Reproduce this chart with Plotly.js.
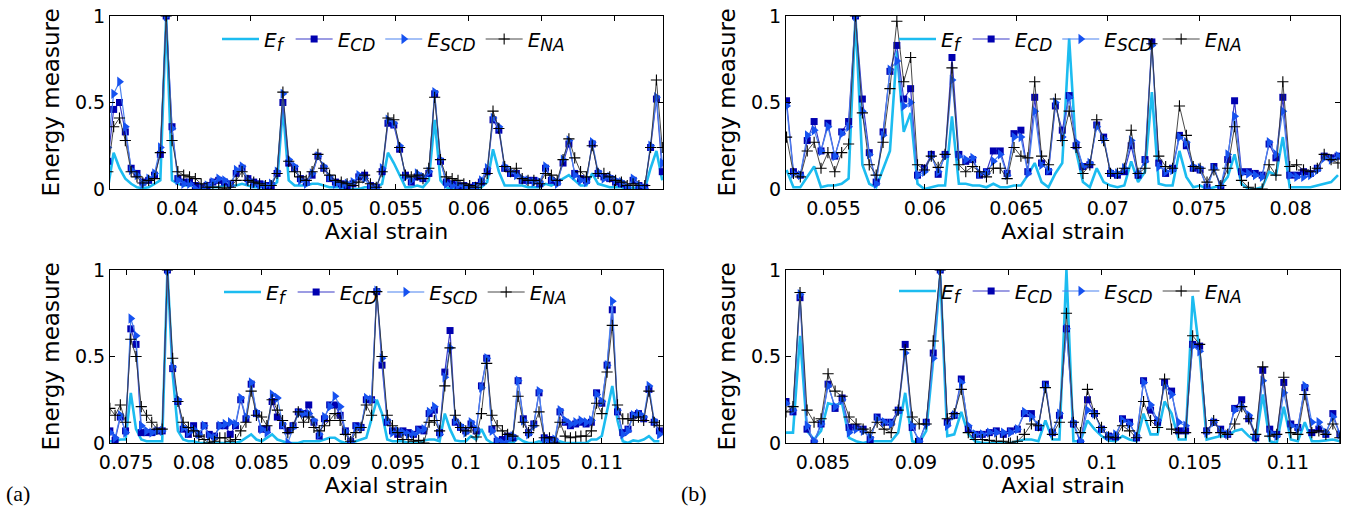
<!DOCTYPE html>
<html>
<head>
<meta charset="utf-8">
<script src="https://cdn.plot.ly/plotly-3.0.1.min.js"></script>
<style>
html,body{margin:0;padding:0;background:#fff;}
#plot{width:1365px;height:509px;}
</style>
</head>
<body>
<div id="plot"></div>
<script>
// ---------- Panel (a) top: strain grid start / step ----------
const tlX0 = 0.03525, tlDx = 0.0004;
const tlEf  = [0.0,0.21,0.12,0.06,0.03,0.01,0.005,0.01,0.03,0.05, 1.0,0.05,0.03,0.02,0.02,0.015,0.01,0.01,0.01,0.01, 0.02,0.02,0.02,0.03,0.02,0.01,0.01,0.01,0.01,0.04, 0.47,0.05,0.02,0.02,0.02,0.03,0.03,0.02,0.01,0.01, 0.01,0.0,0.0,0.0,0.01,0.01,0.01,0.03,0.21,0.15, 0.08,0.01,0.01,0.02,0.01,0.05,0.4,0.05,0.01,0.0, 0.0,0.0,0.0,0.0,0.01,0.04,0.23,0.1,0.02,0.02, 0.02,0.02,0.01,0.01,0.01,0.03,0.02,0.04,0.06,0.08, 0.05,0.02,0.02,0.09,0.03,0.02,0.01,0.01,0.01,0.0, 0.01,0.0,0.0,0.12,0.22,0.05];
const tlCD  = [0.16,0.46,0.50,0.33,0.12,0.09,0.04,0.05,0.08,0.20, 1.0,0.36,0.06,0.04,0.04,0.02,0.01,0.02,0.04,0.05, 0.04,0.03,0.09,0.12,0.06,0.04,0.03,0.02,0.02,0.09, 0.5,0.15,0.12,0.06,0.04,0.08,0.19,0.12,0.06,0.04, 0.03,0.02,0.03,0.07,0.08,0.02,0.01,0.1,0.38,0.37, 0.23,0.08,0.04,0.07,0.06,0.09,0.55,0.16,0.04,0.03, 0.02,0.02,0.01,0.02,0.04,0.1,0.4,0.34,0.12,0.09, 0.09,0.05,0.05,0.05,0.03,0.12,0.05,0.04,0.15,0.26, 0.09,0.06,0.05,0.26,0.09,0.07,0.06,0.04,0.03,0.01, 0.05,0.02,0.01,0.24,0.52,0.1];
const tlSCD = [0.24,0.55,0.62,0.36,0.11,0.08,0.03,0.06,0.09,0.24, 1.0,0.35,0.05,0.03,0.03,0.0,0.0,0.02,0.04,0.06, 0.05,0.02,0.11,0.13,0.05,0.03,0.02,0.02,0.03,0.10, 0.55,0.17,0.13,0.05,0.03,0.09,0.19,0.13,0.07,0.03, 0.02,0.03,0.04,0.08,0.06,0.01,0.0,0.12,0.4,0.38, 0.25,0.07,0.05,0.09,0.07,0.1,0.56,0.17,0.03,0.02, 0.02,0.01,0.0,0.01,0.05,0.12,0.41,0.36,0.13,0.1, 0.08,0.06,0.05,0.04,0.04,0.13,0.06,0.03,0.17,0.28, 0.08,0.05,0.04,0.27,0.1,0.06,0.07,0.05,0.04,0.01, 0.06,0.02,0.0,0.25,0.53,0.15];
const tlNA  = [0.1,0.36,0.41,0.28,0.10,0.07,0.035,0.05,0.06,0.21, 1.0,0.28,0.1,0.08,0.07,0.06,0.03,0.01,0.01,0.01, 0.0,0.01,0.05,0.1,0.05,0.04,0.03,0.02,0.02,0.09, 0.56,0.16,0.1,0.07,0.05,0.1,0.2,0.12,0.08,0.05, 0.04,0.03,0.02,0.04,0.08,0.03,0.01,0.1,0.41,0.4, 0.24,0.08,0.07,0.08,0.06,0.12,0.53,0.17,0.07,0.06, 0.05,0.03,0.02,0.01,0.03,0.09,0.45,0.35,0.13,0.1, 0.12,0.06,0.05,0.05,0.03,0.09,0.08,0.05,0.17,0.29, 0.18,0.1,0.07,0.25,0.09,0.09,0.07,0.05,0.04,0.02, 0.03,0.02,0.02,0.24,0.63,0.24];

// ---------- Panel (b) top ----------
const trX0 = 0.05243, trDx = 0.000377;
const trEf  = [0.11,0.01,0.01,0.07,0.13,0.01,0.02,0.02,0.03,0.06, 1.0,0.14,0.03,0.01,0.12,0.22,0.8,0.33,0.44,0.03, 0.0,0.01,0.02,0.02,0.42,0.03,0.03,0.02,0.02,0.01, 0.03,0.01,0.01,0.02,0.02,0.08,0.15,0.04,0.01,0.09, 0.15,0.87,0.22,0.04,0.01,0.12,0.04,0.02,0.01,0.02, 0.16,0.04,0.1,0.56,0.03,0.02,0.02,0.22,0.07,0.01, 0.02,0.0,0.01,0.02,0.07,0.2,0.03,0.0,0.0,0.01, 0.1,0.08,0.3,0.01,0.01,0.01,0.01,0.02,0.03,0.04, 0.08];
const trCD  = [0.51,0.1,0.08,0.28,0.39,0.22,0.38,0.19,0.33,0.39, 1.0,0.52,0.21,0.04,0.33,0.68,0.83,0.52,0.58,0.08, 0.12,0.2,0.085,0.2,0.76,0.2,0.16,0.17,0.08,0.1, 0.22,0.22,0.09,0.32,0.34,0.1,0.53,0.15,0.1,0.48, 0.34,0.54,0.25,0.13,0.14,0.37,0.3,0.09,0.08,0.1, 0.25,0.08,0.17,0.85,0.15,0.09,0.12,0.31,0.25,0.12, 0.11,0.01,0.13,0.0,0.17,0.51,0.1,0.1,0.09,0.08, 0.26,0.18,0.53,0.08,0.08,0.1,0.09,0.12,0.19,0.18, 0.19];
const trSCD = [0.48,0.09,0.08,0.31,0.34,0.22,0.36,0.19,0.32,0.36, 1.0,0.45,0.2,0.03,0.31,0.69,0.74,0.48,0.5,0.08, 0.1,0.19,0.1,0.19,0.63,0.19,0.17,0.18,0.09,0.09, 0.16,0.2,0.08,0.3,0.3,0.09,0.45,0.14,0.11,0.5, 0.3,0.53,0.27,0.13,0.15,0.36,0.29,0.1,0.09,0.12, 0.28,0.09,0.16,0.83,0.13,0.1,0.11,0.3,0.27,0.13, 0.12,0.0,0.12,0.02,0.2,0.42,0.09,0.09,0.08,0.07, 0.27,0.2,0.45,0.08,0.07,0.07,0.08,0.11,0.18,0.17, 0.19];
const trNA  = [0.30,0.09,0.07,0.22,0.27,0.12,0.21,0.10,0.21,0.26, 1.0,0.44,0.14,0.08,0.27,0.58,0.97,0.62,0.76,0.14, 0.11,0.19,0.125,0.2,0.7,0.14,0.1,0.13,0.1,0.07, 0.12,0.12,0.06,0.24,0.19,0.18,0.62,0.19,0.14,0.52, 0.28,0.45,0.24,0.09,0.14,0.4,0.28,0.09,0.09,0.12, 0.34,0.09,0.12,0.84,0.19,0.13,0.12,0.48,0.31,0.13, 0.12,0.04,0.11,0.02,0.12,0.36,0.05,0.01,0.0,0.0, 0.14,0.08,0.62,0.13,0.14,0.11,0.1,0.12,0.2,0.17, 0.15];

// ---------- Panel (a) bottom ----------
const blX0 = 0.07381, blDx = 0.000385;
const blEf  = [0.01,0.01,0.02,0.02,0.29,0.08,0.02,0.01,0.01,0.01, 0.01,1.0,0.4,0.07,0.02,0.01,0.01,0.0,0.0,0.0, 0.0,0.0,0.0,0.0,0.0,0.01,0.03,0.05,0.02,0.01, 0.03,0.05,0.02,0.01,0.0,0.0,0.0,0.01,0.01,0.01, 0.01,0.02,0.03,0.03,0.01,0.0,0.0,0.01,0.02,0.03, 0.14,0.25,0.17,0.02,0.01,0.01,0.01,0.0,0.0,0.0, 0.015,0.02,0.02,0.01,0.17,0.08,0.015,0.01,0.01,0.04, 0.02,0.08,0.02,0.0,0.0,0.02,0.01,0.0,0.03,0.01, 0.0,0.0,0.01,0.0,0.0,0.0,0.01,0.0,0.0,0.0, 0.0,0.0,0.02,0.02,0.04,0.19,0.33,0.13,0.01,0.0, 0.015,0.01,0.02,0.04,0.01,0.01];
const blCD  = [0.07,0.015,0.15,0.07,0.66,0.57,0.06,0.06,0.06,0.07, 0.07,1.0,0.43,0.24,0.08,0.05,0.1,0.05,0.1,0.05, 0.04,0.1,0.1,0.05,0.1,0.25,0.14,0.34,0.17,0.08, 0.08,0.24,0.15,0.1,0.07,0.1,0.18,0.17,0.22,0.12, 0.04,0.14,0.22,0.22,0.16,0.07,0.01,0.1,0.09,0.25, 0.25,0.875,0.45,0.12,0.07,0.05,0.07,0.06,0.05,0.08, 0.07,0.17,0.19,0.06,0.41,0.65,0.12,0.09,0.07,0.11, 0.07,0.33,0.49,0.08,0.01,0.02,0.04,0.03,0.36,0.14, 0.06,0.11,0.29,0.03,0.02,0.01,0.18,0.12,0.1,0.11, 0.12,0.11,0.12,0.29,0.23,0.45,0.77,0.18,0.06,0.08, 0.16,0.17,0.14,0.31,0.12,0.07];
const blSCD = [0.06,0.03,0.16,0.06,0.72,0.62,0.1,0.07,0.06,0.07, 0.07,1.0,0.44,0.25,0.09,0.06,0.08,0.05,0.1,0.04, 0.03,0.1,0.11,0.12,0.11,0.26,0.15,0.35,0.18,0.08, 0.06,0.28,0.26,0.11,0.0,0.09,0.17,0.17,0.17,0.13, 0.05,0.15,0.21,0.27,0.21,0.07,0.0,0.09,0.09,0.26, 0.25,0.88,0.49,0.13,0.06,0.07,0.06,0.05,0.05,0.07, 0.08,0.18,0.21,0.05,0.38,0.55,0.13,0.1,0.06,0.12, 0.08,0.32,0.49,0.07,0.015,0.0,0.02,0.04,0.36,0.13, 0.05,0.1,0.3,0.02,0.0,0.02,0.19,0.13,0.11,0.12, 0.13,0.12,0.13,0.28,0.24,0.45,0.82,0.19,0.05,0.07, 0.16,0.17,0.15,0.33,0.13,0.05];
const blNA  = [0.2,0.16,0.22,0.12,0.6,0.5,0.21,0.16,0.12,0.08, 0.08,1.0,0.49,0.24,0.12,0.09,0.07,0.04,0.02,0.0, 0.01,0.03,0.03,0.01,0.02,0.07,0.12,0.3,0.16,0.15, 0.1,0.25,0.19,0.13,0.06,0.09,0.18,0.12,0.15,0.09, 0.07,0.1,0.13,0.17,0.13,0.05,0.01,0.06,0.09,0.22, 0.16,0.875,0.5,0.16,0.1,0.06,0.02,0.02,0.01,0.015, 0.0,0.12,0.13,0.07,0.33,0.55,0.16,0.09,0.07,0.09, 0.035,0.17,0.46,0.16,0.1,0.07,0.05,0.04,0.27,0.12, 0.06,0.1,0.18,0.03,0.03,0.0,0.12,0.04,0.03,0.035, 0.04,0.04,0.07,0.23,0.17,0.41,0.68,0.22,0.14,0.14, 0.13,0.15,0.13,0.3,0.12,0.1];

// ---------- Panel (b) bottom ----------
const brX0 = 0.08301, brDx = 0.000377;
const brEf  = [0.06,0.06,0.62,0.07,0.02,0.07,0.23,0.22,0.23,0.03, 0.01,0.0,0.01,0.01,0.01,0.01,0.06,0.29,0.01,0.0, 0.07,0.48,0.97,0.04,0.05,0.18,0.05,0.01,0.0,0.0, 0.0,0.0,0.0,0.01,0.02,0.02,0.01,0.13,0.02,0.02, 1.0,0.01,0.01,0.13,0.08,0.04,0.015,0.01,0.04,0.02, 0.01,0.17,0.05,0.05,0.24,0.17,0.02,0.02,0.85,0.52, 0.02,0.03,0.04,0.04,0.07,0.08,0.04,0.01,0.28,0.01, 0.0,0.21,0.02,0.01,0.12,0.01,0.01,0.015,0.02,0.01];
const brCD  = [0.24,0.18,0.84,0.08,0.0,0.11,0.34,0.2,0.26,0.09, 0.09,0.08,0.02,0.15,0.12,0.12,0.19,0.57,0.09,0.01, 0.12,0.52,1.0,0.12,0.16,0.37,0.08,0.05,0.05,0.06, 0.07,0.05,0.07,0.08,0.17,0.17,0.09,0.34,0.06,0.16, 0.66,0.11,0.0,0.25,0.17,0.08,0.04,0.035,0.14,0.12, 0.03,0.36,0.19,0.12,0.35,0.3,0.07,0.07,0.57,0.56, 0.07,0.12,0.08,0.05,0.2,0.25,0.14,0.03,0.42,0.08, 0.05,0.35,0.11,0.09,0.32,0.06,0.08,0.05,0.17,0.05];
const brSCD = [0.23,0.19,0.86,0.1,0.01,0.11,0.33,0.21,0.25,0.06, 0.08,0.07,0.03,0.14,0.12,0.11,0.18,0.52,0.1,0.01, 0.11,0.49,1.0,0.1,0.16,0.35,0.1,0.05,0.05,0.06, 0.06,0.06,0.06,0.08,0.18,0.15,0.1,0.33,0.06,0.17, 0.66,0.12,0.01,0.19,0.17,0.08,0.04,0.05,0.13,0.11, 0.04,0.35,0.22,0.13,0.33,0.28,0.12,0.1,0.56,0.53, 0.06,0.12,0.07,0.05,0.19,0.21,0.16,0.04,0.36,0.06, 0.04,0.29,0.1,0.08,0.33,0.12,0.12,0.06,0.15,0.05];
const brNA  = [0.18,0.21,0.87,0.19,0.12,0.14,0.4,0.3,0.27,0.15, 0.11,0.08,0.06,0.12,0.08,0.06,0.19,0.54,0.15,0.11, 0.11,0.59,1.0,0.14,0.17,0.31,0.06,0.02,0.02,0.015, 0.01,0.01,0.0,0.01,0.05,0.11,0.1,0.32,0.05,0.12, 0.75,0.12,0.06,0.31,0.17,0.09,0.035,0.03,0.1,0.07, 0.03,0.24,0.13,0.09,0.37,0.08,0.06,0.06,0.62,0.57, 0.06,0.13,0.06,0.05,0.11,0.21,0.14,0.05,0.44,0.04, 0.05,0.38,0.06,0.05,0.28,0.06,0.07,0.05,0.11,0.03];

// ---------- Text ----------
const SUB = (s) => '<sub><span style="font-size:17px">' + s + '</span></sub>';
const seriesNames = ['<i>E' + SUB('f') + '</i>', '<i>E' + SUB('CD') + '</i>', '<i>E' + SUB('SCD') + '</i>', '<i>E' + SUB('NA') + '</i>'];
const xTitle = 'Axial strain';
const yTitle = 'Energy measure';
const yTickVals = [0, 0.5, 1];
const yTickText = ['0', '0.5', '1'];
const panelLabels = ['(a)', '(b)'];

// ---------- Styles ----------
const C_EF = '#1cbcf0', C_CD_LINE = '#3b3bc8', C_CD = '#0000b0', C_SCD_LINE = '#4a82f0', C_SCD = '#1652f0', C_NA_LINE = '#333333';

function panel(xa, ya, leg, x0, dx, ef, cd, scd, na) {
  return [
    {type:'scatter', mode:'lines', name:seriesNames[0], x0:x0, dx:dx, y:ef, xaxis:xa, yaxis:ya, legend:leg,
     line:{color:C_EF, width:2.6}},
    {type:'scatter', mode:'lines+markers', name:seriesNames[1], x0:x0, dx:dx, y:cd, xaxis:xa, yaxis:ya, legend:leg,
     line:{color:C_CD_LINE, width:1.2}, marker:{symbol:'square', size:7, color:C_CD}},
    {type:'scatter', mode:'lines+markers', name:seriesNames[2], x0:x0, dx:dx, y:scd, xaxis:xa, yaxis:ya, legend:leg,
     line:{color:C_SCD_LINE, width:1.2}, marker:{symbol:'triangle-right', size:9, color:C_SCD}},
    {type:'scatter', mode:'lines+markers', name:seriesNames[3], x0:x0, dx:dx, y:na, xaxis:xa, yaxis:ya, legend:leg,
     line:{color:C_NA_LINE, width:0.9}, marker:{symbol:'cross-thin', size:8, color:'#000', line:{width:1.1, color:'#000'}}}
  ];
}

const data = [].concat(
  panel('x', 'y', 'legend', tlX0, tlDx, tlEf, tlCD, tlSCD, tlNA),
  panel('x2', 'y2', 'legend2', trX0, trDx, trEf, trCD, trSCD, trNA),
  panel('x3', 'y3', 'legend3', blX0, blDx, blEf, blCD, blSCD, blNA),
  panel('x4', 'y4', 'legend4', brX0, brDx, brEf, brCD, brSCD, brNA)
);

const W = 1365, H = 509;
const tickFont = {family:'DejaVu Sans', size:19, color:'#000'};
const titleFont = {family:'DejaVu Sans', size:22, color:'#000'};

function xAxis(domain, range, anchor) {
  return {domain:domain, range:range, anchor:anchor, tick0:0, dtick:0.005,
    ticks:'inside', ticklen:5, tickwidth:1, tickcolor:'#000', ticklabelstandoff:2,
    showline:true, linecolor:'#000', linewidth:1, mirror:'ticks',
    showgrid:false, zeroline:false, tickfont:tickFont,
    title:{text:xTitle, font:titleFont, standoff:1}};
}
function yAxis(domain, anchor) {
  return {domain:domain, range:[0,1], anchor:anchor, tickvals:yTickVals, ticktext:yTickText,
    ticks:'inside', ticklen:5, tickwidth:1, tickcolor:'#000',
    showline:true, linecolor:'#000', linewidth:1, mirror:'ticks',
    showgrid:false, zeroline:false, tickfont:tickFont,
    title:{text:yTitle, font:{family:'DejaVu Sans', size:23, color:'#000'}, standoff:8}};
}
function legendAt(px, py) {
  return {orientation:'h', x:px/W, y:1-py/H, xanchor:'left', yanchor:'middle',
    bgcolor:'rgba(0,0,0,0)', borderwidth:0, itemwidth:37,
    font:{family:'DejaVu Sans', size:20, color:'#000'}};
}

const xL = [110/W, 663/W], xR = [786/W, 1340/W];
const yT = [1-189/H, 1-16/H], yB = [1-443/H, 1-270/H];

const layout = {
  width:W, height:H, margin:{l:0, r:0, t:0, b:0},
  paper_bgcolor:'#fff', plot_bgcolor:'#fff', showlegend:true,
  xaxis: xAxis(xL, [0.0354, 0.0733], 'y'),
  yaxis: yAxis(yT, 'x'),
  xaxis2: xAxis(xR, [0.0524, 0.0827], 'y2'),
  yaxis2: yAxis(yT, 'x2'),
  xaxis3: xAxis(xL, [0.07382, 0.1145], 'y3'),
  yaxis3: yAxis(yB, 'x3'),
  xaxis4: xAxis(xR, [0.08301, 0.1128], 'y4'),
  yaxis4: yAxis(yB, 'x4'),
  legend: legendAt(217, 39),
  legend2: legendAt(894, 39),
  legend3: legendAt(219, 292),
  legend4: legendAt(894, 291),
  annotations: [
    {text:panelLabels[0], xref:'paper', yref:'paper', x:4/W, y:1-493/H, xanchor:'left', yanchor:'middle', showarrow:false,
     font:{family:'Liberation Serif', size:22, color:'#000'}},
    {text:panelLabels[1], xref:'paper', yref:'paper', x:679/W, y:1-493/H, xanchor:'left', yanchor:'middle', showarrow:false,
     font:{family:'Liberation Serif', size:22, color:'#000'}}
  ]
};

Plotly.newPlot('plot', data, layout, {staticPlot:true, displayModeBar:false});
</script>
</body>
</html>
